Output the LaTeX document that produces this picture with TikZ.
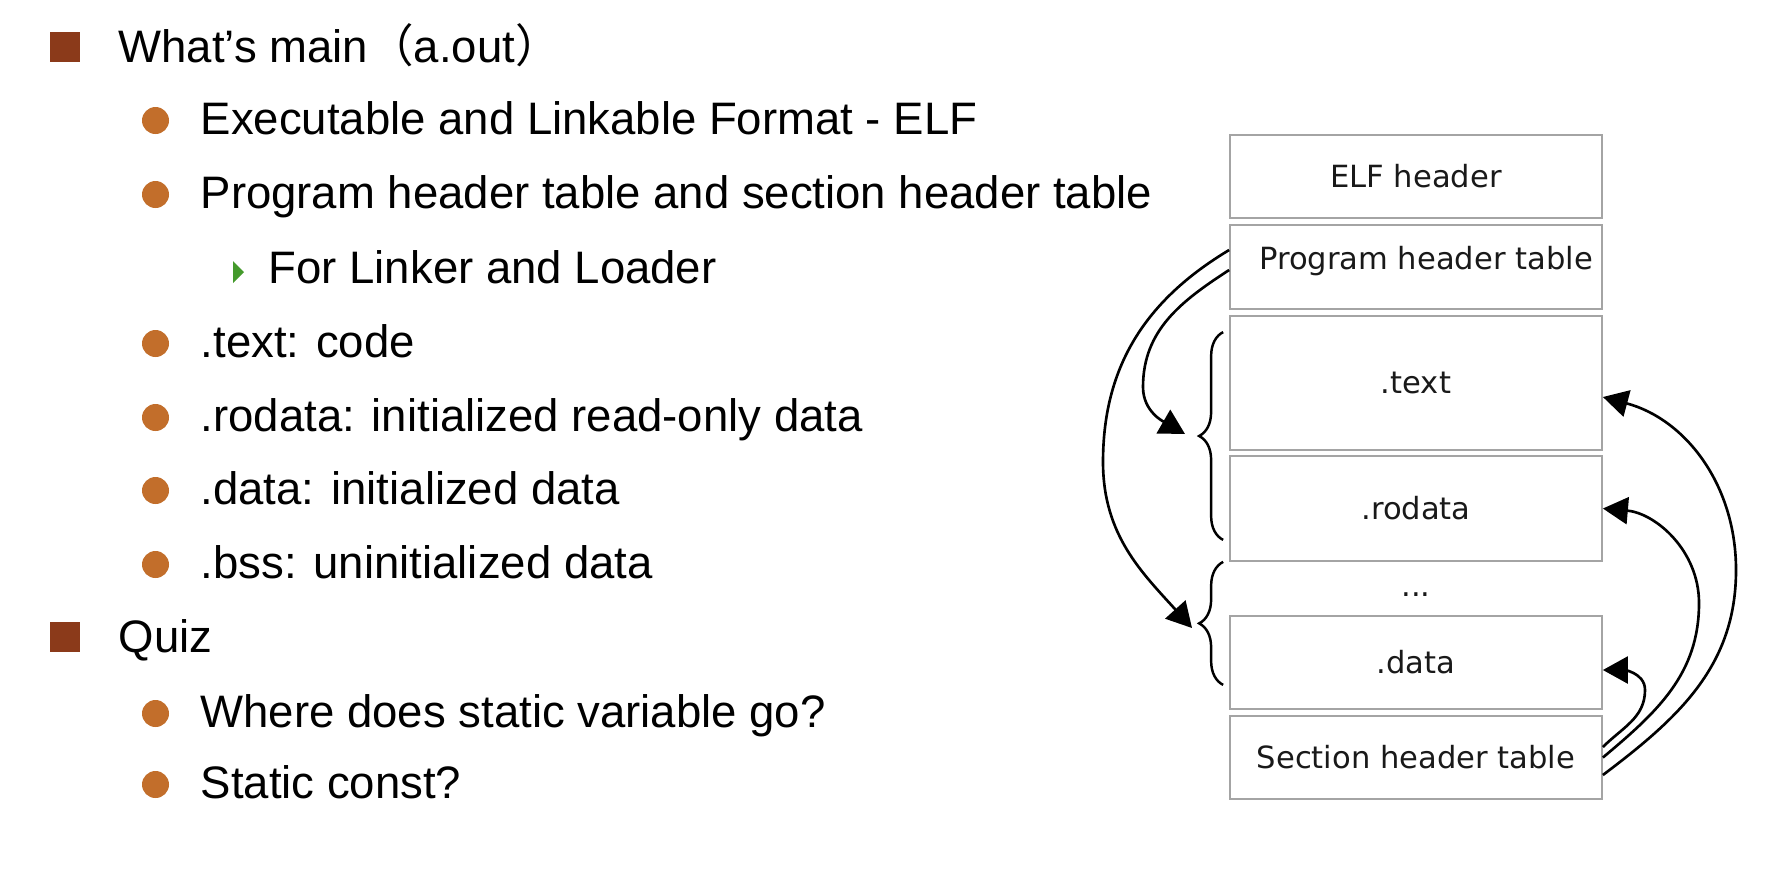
\documentclass[tikz,border=0pt]{standalone}
\usepackage{fontspec}
\setmainfont{Liberation Sans}
\newfontfamily\cjkfont{Noto Sans CJK JP}
\newfontfamily\figfont{DejaVu Sans}
\usepackage{xcolor}
\usetikzlibrary{arrows.meta,positioning,decorations.pathreplacing}

\definecolor{sqbrown}{HTML}{8B3A1A}
\definecolor{dotorange}{HTML}{C26E2B}
\definecolor{tipgreen}{HTML}{449A2C}
\definecolor{boxgray}{HTML}{A4A4A4}

\tikzset{
  item/.style={anchor=base west, inner sep=0pt, font=\fontsize{12.95}{15}\selectfont},
  sqbullet/.style={fill=sqbrown, minimum size=0.30cm, inner sep=0pt},
  dotbullet/.style={circle, fill=dotorange, minimum size=0.27cm, inner sep=0pt},
  secbox/.style={draw=boxgray, line width=0.5pt, minimum width=3.72cm, inner sep=0pt,
    font=\figfont\fontsize{8.7}{10}\selectfont, text=black!90},
  ptr/.style={line width=0.75pt, -{Triangle[length=2.5mm, width=2.7mm]}},
  curly/.style={line width=0.7pt, decorate, decoration={brace, amplitude=0.24cm}}
}

\begin{document}
\begin{tikzpicture}[scale=1.0]
\useasboundingbox (0,0) rectangle (17.90,8.82);

% Bullet list
\node[item] (l1) at (1.18, 8.20) {What’s main{\cjkfont （}a.out{\cjkfont ）}};
\node[item] (l2) at (2.00, 7.48) {Executable and Linkable Format - ELF};
\node[item] (l3) at (2.00, 6.74) {Program header table and section header table};
\node[item] (l4) at (2.68, 5.99) {For Linker and Loader};
\node[item] (l5) at (2.00, 5.25) {.text: code};
\node[item] (l6) at (2.00, 4.51) {.rodata: initialized read-only data};
\node[item] (l7) at (2.00, 3.78) {.data: initialized data};
\node[item] (l8) at (2.00, 3.04) {.bss: uninitialized data};
\node[item] (l9) at (1.18, 2.30) {Quiz};
\node[item] (l10) at (2.00, 1.55) {Where does static variable go?};
\node[item] (l11) at (2.00, 0.84) {Static const?};

% Bullet marks
\node[sqbullet] (s1) at ([xshift=-0.53cm, yshift=0.15cm]l1.base west) {};
\node[sqbullet] (s9) at ([xshift=-0.53cm, yshift=0.15cm]l9.base west) {};
\node[dotbullet] (d2) at ([xshift=-0.445cm, yshift=0.135cm]l2.base west) {};
\node[dotbullet] (d3) at ([xshift=-0.445cm, yshift=0.135cm]l3.base west) {};
\node[dotbullet] (d5) at ([xshift=-0.445cm, yshift=0.135cm]l5.base west) {};
\node[dotbullet] (d6) at ([xshift=-0.445cm, yshift=0.135cm]l6.base west) {};
\node[dotbullet] (d7) at ([xshift=-0.445cm, yshift=0.135cm]l7.base west) {};
\node[dotbullet] (d8) at ([xshift=-0.445cm, yshift=0.135cm]l8.base west) {};
\node[dotbullet] (d10) at ([xshift=-0.445cm, yshift=0.135cm]l10.base west) {};
\node[dotbullet] (d11) at ([xshift=-0.445cm, yshift=0.135cm]l11.base west) {};
\fill[tipgreen] ([xshift=-0.35cm]l4.base west) -- ++(0,0.22) -- ++(0.11,-0.11) -- cycle;

% ELF layout
\node[secbox, minimum height=0.83cm] (elf) at (14.16, 7.055) {ELF header};
\node[secbox, minimum height=0.84cm, text depth=0.19cm] (pht) at (14.16, 6.15) {\hspace*{0.2cm}Program header table};
\node[secbox, minimum height=1.34cm] (text) at (14.16, 4.99) {.text};
\node[secbox, minimum height=1.05cm] (rodata) at (14.16, 3.735) {.rodata};
\node[anchor=base, inner sep=0pt, font=\figfont\fontsize{8.7}{10}\selectfont, text=black!90] (dots) at (14.16, 2.86) {...};
\node[secbox, minimum height=0.93cm] (data) at (14.16, 2.195) {.data};
\node[secbox, minimum height=0.83cm] (sht) at (14.16, 1.245) {Section header table};

% Segment braces
\draw[curly] ([xshift=-0.06cm, yshift=0.22cm]rodata.south west) -- ([xshift=-0.06cm, yshift=-0.17cm]text.north west);
\draw[curly] ([xshift=-0.06cm, yshift=0.25cm]data.south west) -- ([xshift=-0.06cm]rodata.south west);

% Program header table points to segments
\coordinate (phtA) at ([yshift=0.17cm]pht.west);
\coordinate (phtB) at ([yshift=-0.03cm]pht.west);
\coordinate (seg1) at (11.85, 4.48);
\coordinate (seg2) at (11.92, 2.54);
\draw[ptr] (phtB) to[out=213, in=90] (11.43, 4.95) to[out=-90, in=150] (seg1);
\draw[ptr] (phtA) to[out=211, in=90] (11.03, 4.20) to[out=-90, in=132] (seg2);

% Section header table points to sections
\draw[ptr] ([yshift=0.105cm]sht.east) to[out=45, in=-90] (16.45, 1.92) to[out=90, in=0] ([yshift=-0.075cm]data.east);
\draw[ptr] (sht.east) to[out=40, in=-90] (16.99, 2.79) to[out=90, in=-5] (rodata.east);
\draw[ptr] ([yshift=-0.175cm]sht.east) to[out=37, in=-90] (17.36, 3.12) to[out=90, in=-15] ([yshift=-0.14cm]text.east);

\end{tikzpicture}
\end{document}
